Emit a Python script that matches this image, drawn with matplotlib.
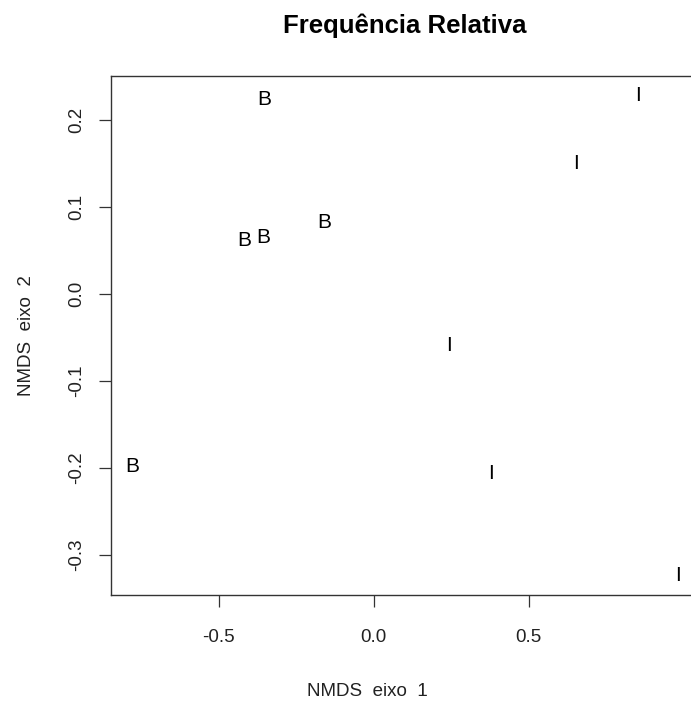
import matplotlib
matplotlib.use('Agg')
import matplotlib.pyplot as plt

# NMDS scores
labels = ['B', 'B', 'B', 'B', 'B', 'I', 'I', 'I', 'I', 'I']
eixo1 = [-0.353, -0.159, -0.416, -0.357, -0.777, 0.851, 0.654, 0.243, 0.379, 0.981]
eixo2 = [0.223, 0.082, 0.061, 0.064, -0.198, 0.228, 0.149, -0.059, -0.207, -0.324]
xticks = [-0.5, 0.0, 0.5]
yticks = [-0.3, -0.2, -0.1, 0.0, 0.1, 0.2]

plt.rcParams['font.family'] = ['Liberation Sans', 'DejaVu Sans']

W, H = 691, 704
fig = plt.figure(figsize=(W / 100, H / 100), dpi=100)

# axes box in pixels (right side runs past the picture edge, as in the original)
left, right, top, bottom = 111, 699.6, 76, 595
ax = fig.add_axes([left / W, (H - bottom) / H, (right - left) / W, (bottom - top) / H])

for lab, x, y in zip(labels, eixo1, eixo2):
    ax.text(x, y, lab, ha='center', va='center', fontsize=15, color='black')

ax.set_xlim(-0.847, 1.051)
ax.set_ylim(-0.346, 0.250)
ax.set_xticks(xticks)
ax.set_xticklabels(['-0.5', '0.0', '0.5'])
ax.set_yticks(yticks)
ax.set_yticklabels(['-0.3', '-0.2', '-0.1', '0.0', '0.1', '0.2'], rotation=90, va='center')

for s in ax.spines.values():
    s.set_color('#333333')
    s.set_linewidth(1.0)
ax.tick_params(axis='both', direction='out', length=8.5, width=0.9, color='#333333',
               labelsize=13.5, labelcolor='#222222')
ax.tick_params(axis='x', pad=16)
ax.tick_params(axis='y', pad=10)

ax.set_xlabel('NMDS  eixo  1', fontsize=13.5, color='#222222', va='center')
ax.set_ylabel('NMDS  eixo  2', fontsize=13.5, color='#222222', va='center')
ax.xaxis.set_label_coords((367 - left) / (right - left), (bottom - 692) / (bottom - top))
ax.yaxis.set_label_coords((27 - left) / (right - left), 0.5)

fig.text(405 / W, 1 - 26 / H, 'Frequência Relativa', ha='center', va='center',
         fontsize=18.5, fontweight='bold')

fig.savefig('out.png', dpi=100)
